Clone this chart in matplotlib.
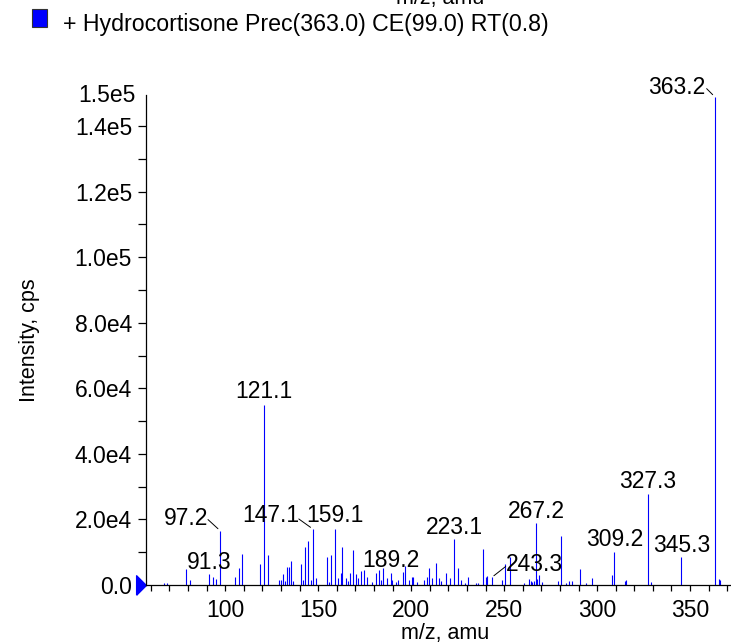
import numpy as np
import matplotlib.pyplot as plt
from matplotlib.patches import Rectangle
from matplotlib.ticker import MultipleLocator, FixedLocator, FixedFormatter

plt.rcParams['font.family'] = ['Liberation Sans', 'DejaVu Sans']

# peak list (m/z, intensity in cps)
mz = [67.1, 68.9, 78.9, 81.1, 91.3, 93.3, 95.0, 97.2, 105.1, 107.3,
      109.2, 118.9, 121.1, 123.0, 129.1, 130.2, 130.9, 132.3, 133.1, 134.3,
      135.4, 136.6, 140.9, 142.0, 143.1, 144.7, 146.3, 147.1, 148.8, 154.7,
      155.8, 157.0, 159.1, 160.8, 162.3, 162.8, 164.8, 166.2, 167.3, 168.9,
      170.3, 171.6, 173.2, 174.8, 176.2, 178.9, 181.2, 182.8, 183.8, 185.0,
      187.2, 189.2, 189.9, 191.7, 193.1, 195.4, 196.8, 198.8, 200.4, 201.1,
      203.3, 207.0, 208.5, 209.4, 211.0, 213.2, 215.1, 216.0, 218.9, 220.9,
      223.1, 225.0, 226.8, 228.8, 230.7, 234.7, 235.7, 238.8, 240.2, 240.9,
      243.3, 248.8, 250.6, 252.9, 260.8, 263.1, 264.2, 265.1, 266.0, 267.2,
      267.8, 268.9, 270.3, 278.8, 280.7, 283.1, 285.0, 286.6, 290.9, 293.8,
      297.0, 308.1, 309.2, 315.0, 315.5, 327.3, 328.9, 345.3, 363.2, 365.3,
      366.0]
intensity = [700, 700, 4900, 1500, 3300, 2300, 1800, 16600, 2500, 5200,
             9500, 6300, 55000, 9200, 1500, 1500, 3400, 1300, 5400, 5600,
             7300, 1200, 6400, 1500, 11700, 13400, 1500, 17100, 2200, 8600,
             800, 9200, 17100, 2200, 3600, 11700, 2000, 1200, 3600, 10700,
             3300, 2200, 4300, 4600, 2500, 800, 3600, 4600, 1500, 5300,
             2200, 3600, 1500, 900, 1500, 4000, 5900, 1500, 2300, 2300,
             1000, 1500, 2500, 5300, 2000, 6600, 2000, 1300, 3800, 2200,
             14000, 5300, 1500, 500, 2500, 700, 700, 11000, 2500, 2800,
             2300, 1600, 6400, 8600, 700, 1900, 1200, 800, 1200, 18800,
             1800, 3100, 1000, 1200, 15000, 500, 1200, 1200, 4900, 700,
             2000, 3100, 10200, 1200, 1500, 27800, 800, 8500, 149000, 1800,
             1500]

labels = ["91.3", "97.2", "121.1", "147.1", "159.1", "189.2", "223.1",
          "243.3", "267.2", "309.2", "327.3", "345.3", "363.2"]

# label text offsets from peak top, pixels; leader = has a connecting line
label_offsets = {"91.3": (0, 12), "97.2": (-34, 12), "121.1": (-1, 13),
                 "147.1": (-42, 13), "159.1": (0, 13), "189.2": (0, 13),
                 "223.1": (0, 12), "243.3": (43, 13), "267.2": (0, 12),
                 "309.2": (0, 12), "327.3": (0, 12), "345.3": (0, 12),
                 "363.2": (-38, 9)}
leaders = {"97.2": (-12, 11), "147.1": (-14, 10), "243.3": (14, 11),
           "363.2": (-8, 8)}

fig = plt.figure(figsize=(7.31, 6.43), dpi=100)
ax = fig.add_axes([146 / 731, 58 / 643, 585 / 731, 490 / 643])

ax.vlines(mz, 0, intensity, color='#0000ff', lw=0.8)

ax.set_xlim(57.4, 372)
ax.set_ylim(0, 149500)

for spine in ['top', 'right']:
    ax.spines[spine].set_visible(False)
ax.spines['left'].set_linewidth(0.9)
ax.spines['bottom'].set_linewidth(0.9)

ax.xaxis.set_major_locator(MultipleLocator(50))
ax.xaxis.set_minor_locator(MultipleLocator(10))
yt = np.arange(0, 140001, 20000)
ax.yaxis.set_major_locator(FixedLocator(yt))
ax.yaxis.set_major_formatter(FixedFormatter(["0.0"] + [f"{v / 10 ** int(np.log10(v)):.1f}e{int(np.log10(v))}" for v in yt[1:]]))
ax.yaxis.set_minor_locator(MultipleLocator(10000))
ax.tick_params(axis='y', which='both', length=6, width=0.9, labelsize=16.5, pad=4)
ax.tick_params(axis='x', which='both', length=4, width=0.9, labelsize=16.5, pad=6)
ax.text(-0.017, 1.0, "1.5e5", transform=ax.transAxes, ha='right', va='center', fontsize=16.5)

# marker at zero intensity on the y axis
tri = [(-0.5, -1), (-0.5, 1), (0.5, 0), (-0.5, -1)]
ax.plot([-0.0085], [0], transform=ax.get_yaxis_transform(), marker=tri, ms=14,
        color='#0000ff', clip_on=False, ls='none')

peak_of = {f"{m:.1f}": (m, h) for m, h in zip(mz, intensity)}
for lab in labels:
    m, h = peak_of[lab]
    dx, dy = label_offsets[lab]
    ax.annotate(lab, xy=(m, h), xytext=(dx, dy), textcoords='offset pixels',
                ha='center', va='center', fontsize=16.5, annotation_clip=False)
    if lab in leaders:
        ax.annotate('', xy=(m, h), xytext=leaders[lab], textcoords='offset pixels',
                    arrowprops=dict(arrowstyle='-', lw=0.7, color='black',
                                    shrinkA=0, shrinkB=2),
                    annotation_clip=False)

fig.text(29 / 731, 1 - 340 / 643, "Intensity, cps", rotation=90, ha='center', va='center', fontsize=15.5)
fig.text(445 / 731, 1 - 634 / 643, "m/z, amu", ha='center', va='center', fontsize=15.5)
# axis title repeated at the very top, mostly outside the figure as in the source
fig.text(440 / 731, 1 - 4 / 643, "m/z, amu", ha='center', va='baseline', fontsize=15.5)

fig.patches.append(Rectangle((31.7 / 731, 1 - 26.7 / 643), 15 / 731, 17.4 / 643,
                             transform=fig.transFigure, facecolor='#0000ff',
                             edgecolor='#333333', lw=0.8))
fig.text(63 / 731, 1 - 31 / 643, "+ Hydrocortisone Prec(363.0) CE(99.0) RT(0.8)",
         ha='left', va='baseline', fontsize=16.7)

fig.savefig("out.png", dpi=100)
